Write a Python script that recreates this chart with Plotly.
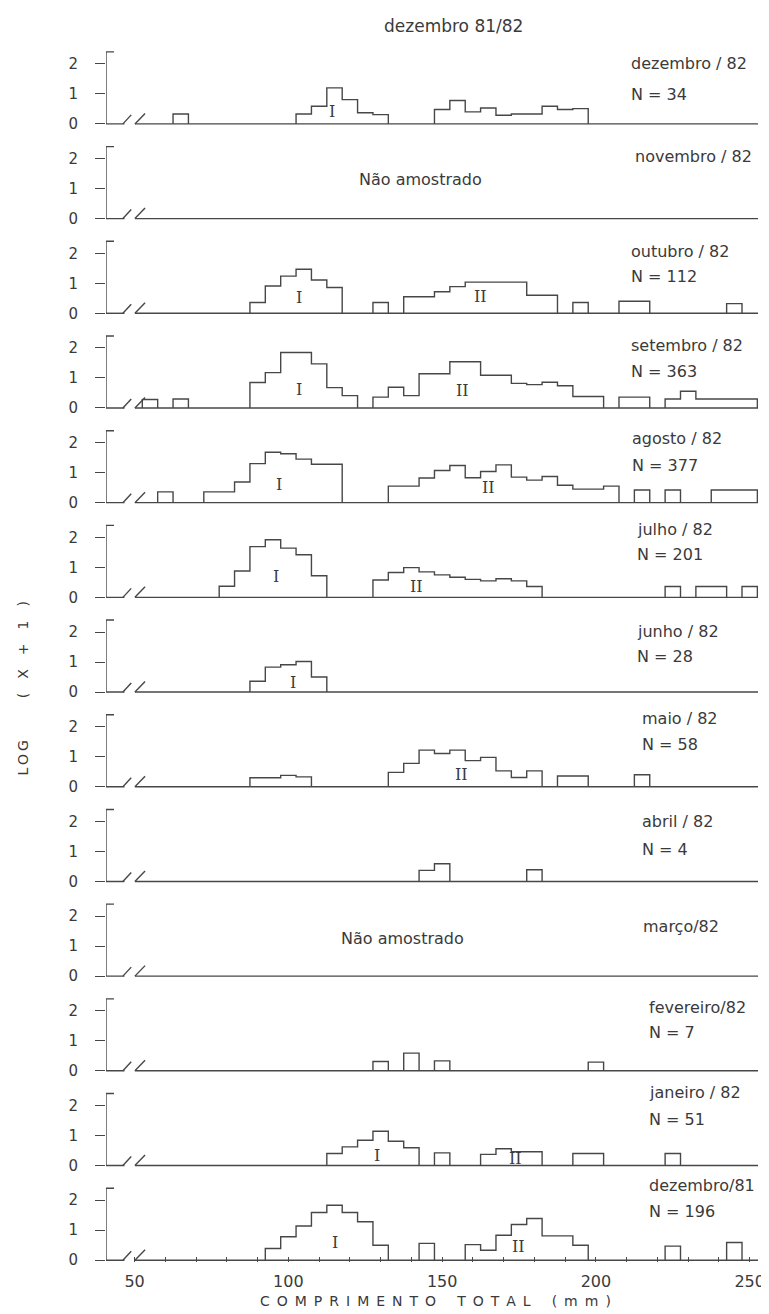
import plotly.graph_objects as go
from plotly.subplots import make_subplots

# ---------------- data (length classes of 5 mm, centred on multiples of 5) ----------------
BIN_WIDTH = 5

panel_months = ["dezembro / 82", "novembro / 82", "outubro / 82", "setembro / 82",
                "agosto / 82", "julho / 82", "junho / 82", "maio / 82",
                "abril / 82", "março/82", "fevereiro/82", "janeiro / 82", "dezembro/81"]
panel_n = [34, None, 112, 363, 377, 201, 28, 58, 4, None, 7, 51, 196]

dez82_mm = [65, 105, 110, 115, 120, 125, 130, 150, 155, 160, 165, 170, 175, 180, 185, 190, 195]
dez82_log = [0.33, 0.33, 0.59, 1.20, 0.81, 0.37, 0.31, 0.48, 0.78, 0.40, 0.53, 0.29, 0.33, 0.33, 0.59, 0.48, 0.51]
nov82_mm = []
nov82_log = []
out82_mm = [90, 95, 100, 105, 110, 115, 130, 140, 145, 150, 155, 160, 165, 170, 175, 180, 185, 195, 210, 215, 245]
out82_log = [0.36, 0.91, 1.24, 1.47, 1.11, 0.86, 0.36, 0.55, 0.55, 0.72, 0.89, 1.04, 1.04, 1.04, 1.04, 0.60, 0.60,
             0.36, 0.40, 0.40, 0.32]
set82_mm = [55, 65, 90, 95, 100, 105, 110, 115, 120, 130, 135, 140, 145, 150, 155, 160, 165, 170, 175, 180, 185,
            190, 195, 200, 210, 215, 225, 230, 235, 240, 245, 250]
set82_log = [0.28, 0.30, 0.85, 1.18, 1.85, 1.85, 1.47, 0.68, 0.41, 0.36, 0.69, 0.41, 1.14, 1.14, 1.54, 1.54, 1.09,
             1.09, 0.82, 0.78, 0.86, 0.74, 0.38, 0.38, 0.36, 0.36, 0.30, 0.56, 0.30, 0.30, 0.30, 0.30]
ago82_mm = [60, 75, 80, 85, 90, 95, 100, 105, 110, 115, 135, 140, 145, 150, 155, 160, 165, 170, 175, 180, 185, 190,
            195, 200, 205, 215, 225, 240, 245, 250]
ago82_log = [0.36, 0.36, 0.36, 0.69, 1.30, 1.68, 1.63, 1.45, 1.28, 1.28, 0.55, 0.55, 0.82, 1.07, 1.24, 0.83, 1.04,
             1.26, 0.85, 0.75, 0.87, 0.58, 0.45, 0.45, 0.55, 0.42, 0.42, 0.42, 0.42, 0.42]
jul82_mm = [80, 85, 90, 95, 100, 105, 110, 130, 135, 140, 145, 150, 155, 160, 165, 170, 175, 180, 225, 235, 240, 250]
jul82_log = [0.37, 0.88, 1.69, 1.92, 1.64, 1.42, 0.72, 0.58, 0.83, 0.99, 0.85, 0.75, 0.67, 0.60, 0.55, 0.62, 0.55,
             0.36, 0.36, 0.36, 0.36, 0.36]
jun82_mm = [90, 95, 100, 105, 110]
jun82_log = [0.36, 0.83, 0.91, 1.02, 0.50]
mai82_mm = [90, 95, 100, 105, 135, 140, 145, 150, 155, 160, 165, 170, 175, 180, 190, 195, 215]
mai82_log = [0.30, 0.30, 0.38, 0.33, 0.48, 0.78, 1.22, 1.11, 1.22, 0.87, 0.98, 0.53, 0.31, 0.53, 0.36, 0.36, 0.40]
abr82_mm = [145, 150, 180]
abr82_log = [0.37, 0.59, 0.39]
mar82_mm = []
mar82_log = []
fev82_mm = [130, 140, 150, 200]
fev82_log = [0.31, 0.59, 0.33, 0.29]
jan82_mm = [115, 120, 125, 130, 135, 140, 150, 165, 170, 175, 180, 195, 200, 225]
jan82_log = [0.40, 0.62, 0.84, 1.14, 0.81, 0.59, 0.42, 0.37, 0.56, 0.46, 0.46, 0.40, 0.40, 0.40]
dez81_mm = [95, 100, 105, 110, 115, 120, 125, 130, 145, 160, 165, 170, 175, 180, 185, 190, 195, 225, 245]
dez81_log = [0.39, 0.78, 1.14, 1.59, 1.83, 1.59, 1.28, 0.50, 0.56, 0.52, 0.33, 0.83, 1.19, 1.39, 0.81, 0.81, 0.50,
             0.47, 0.59]

panel_mm = [dez82_mm, nov82_mm, out82_mm, set82_mm, ago82_mm, jul82_mm, jun82_mm,
            mai82_mm, abr82_mm, mar82_mm, fev82_mm, jan82_mm, dez81_mm]
panel_log = [dez82_log, nov82_log, out82_log, set82_log, ago82_log, jul82_log, jun82_log,
             mai82_log, abr82_log, mar82_log, fev82_log, jan82_log, dez81_log]

# cohort labels
cohort_panel = [0, 2, 2, 3, 3, 4, 4, 5, 5, 6, 7, 11, 11, 12, 12]
cohort_text = ["I", "I", "II", "I", "II", "I", "II", "I", "II", "I", "II", "I", "II", "I", "II"]
cohort_mm = [114.1, 103.4, 162.6, 103.4, 156.5, 97.0, 165.2, 96.0, 141.7, 101.5, 156.2, 128.9, 173.9, 115.3, 174.9]
cohort_log = [0.40, 0.53, 0.57, 0.63, 0.57, 0.60, 0.50, 0.70, 0.37, 0.33, 0.40, 0.35, 0.23, 0.60, 0.47]

not_sampled_text = "Não amostrado"
x_ticks = list(range(50, 251, 10))
x_tick_labelled = [50, 100, 150, 200, 250]
y_ticks = [0, 1, 2]

# ---------------- layout / style ----------------
X_RANGE = [40.7, 252.7]
Y_RANGE = [-0.06, 3.097]
LINE = "#474747"
TEXT = "#3a3a3a"
FONT = "DejaVu Sans"

month_y = [2.03, 2.07, 2.07, 2.07, 2.13, 2.27, 2.03, 2.27, 2.00, 1.67, 2.10, 2.43, 2.50]
n_y = [0.97, None, 1.23, 1.23, 1.23, 1.43, 1.17, 1.42, 1.06, None, 1.27, 1.53, 1.63]
label_left = [210.9, 211.9, 210.9, 210.9, 211.2, 212.8, 212.8, 214.4, 214.4, 214.7, 216.7, 216.7, 216.7]
not_sampled_pos = {1: (143.0, 1.30), 9: (137.2, 1.27)}

N_PANELS = len(panel_months)
fig = make_subplots(rows=N_PANELS, cols=1, shared_xaxes=True, vertical_spacing=0)


def outline(centers, heights):
    xs, ys = [], []
    prev = None
    for c, h in zip(centers, heights):
        left, right = c - BIN_WIDTH / 2, c + BIN_WIDTH / 2
        if prev is None or abs(left - prev) > 1e-9:
            if prev is not None:
                xs += [prev, None]
                ys += [0, None]
            xs.append(left)
            ys.append(0)
        xs += [left, right]
        ys += [h, h]
        prev = right
    if prev is not None:
        xs.append(prev)
        ys.append(0)
    return xs, ys


shapes = []
annotations = []
for i in range(N_PANELS):
    row = i + 1
    xr = "x" if row == 1 else f"x{row}"
    yr = "y" if row == 1 else f"y{row}"
    xs, ys = outline(panel_mm[i], panel_log[i])
    if xs:
        fig.add_trace(go.Scatter(x=xs, y=ys, mode="lines", line=dict(color=LINE, width=1.4),
                                 cliponaxis=False, hoverinfo="skip"), row=row, col=1)
    # baseline with axis break and y axis line
    seg = [((X_RANGE[0], 0), (46.7, 0)), ((50.1, 0), (X_RANGE[1], 0)),
           ((46.2, 0), (48.9, 0.30)), ((50.1, 0), (53.4, 0.35)),
           ((X_RANGE[0], 0), (X_RANGE[0], 2.4)), ((X_RANGE[0], 2.4), (43.3, 2.4))]
    for (x0, y0), (x1, y1) in seg:
        shapes.append(dict(type="line", xref=xr, yref=yr, x0=x0, y0=y0, x1=x1, y1=y1,
                           line=dict(color=LINE, width=1.4)))
    annotations.append(dict(text=panel_months[i], xref=xr, yref=yr, x=label_left[i], y=month_y[i],
                            xanchor="left", yanchor="middle", showarrow=False,
                            font=dict(family=FONT, size=16, color=TEXT)))
    if panel_n[i] is not None:
        annotations.append(dict(text=f"N = {panel_n[i]}", xref=xr, yref=yr, x=label_left[i], y=n_y[i],
                                xanchor="left", yanchor="middle", showarrow=False,
                                font=dict(family=FONT, size=16, color=TEXT)))
    if i in not_sampled_pos:
        px, py = not_sampled_pos[i]
        annotations.append(dict(text=not_sampled_text, xref=xr, yref=yr, x=px, y=py,
                                xanchor="center", yanchor="middle", showarrow=False,
                                font=dict(family=FONT, size=16, color=TEXT)))

for p, t, xm, yl in zip(cohort_panel, cohort_text, cohort_mm, cohort_log):
    row = p + 1
    xr = "x" if row == 1 else f"x{row}"
    yr = "y" if row == 1 else f"y{row}"
    annotations.append(dict(text=t, xref=xr, yref=yr, x=xm, y=yl, xanchor="center", yanchor="middle",
                            showarrow=False, font=dict(family="DejaVu Serif", size=16, color=TEXT)))

# titles
annotations.append(dict(text="dezembro 81/82", xref="paper", yref="paper", x=0.533, y=1.004,
                        xanchor="center", yanchor="middle", showarrow=False,
                        font=dict(family=FONT, size=17, color=TEXT)))
sp = "\u2002"
xtitle = (sp.join("COMPRIMENTO") + sp * 3 + sp.join("TOTAL") + sp * 3 + sp.join("(mm)"))
annotations.append(dict(text=xtitle, xref="paper", yref="paper", x=0.505, y=-0.032,
                        xanchor="center", yanchor="middle", showarrow=False,
                        font=dict(family=FONT, size=14, color=TEXT)))
ytitle = "\u2009".join("LOG") + "\u2003" * 3 + "\u2003".join("(X+1)")
annotations.append(dict(text=ytitle, xref="paper", yref="paper", x=-0.128, y=0.4655, textangle=-90,
                        xanchor="center", yanchor="middle", showarrow=False,
                        font=dict(family=FONT, size=14, color=TEXT)))

fig.update_xaxes(range=X_RANGE, showgrid=False, zeroline=False, showline=False, ticks="",
                 showticklabels=False)
fig.update_xaxes(row=N_PANELS, col=1, showticklabels=True, tickvals=x_ticks,
                 ticktext=[str(v) if v in x_tick_labelled else "" for v in x_ticks],
                 ticks="inside", ticklen=5, tickwidth=1.3, tickcolor=LINE, ticklabelstandoff=8,
                 tickfont=dict(family=FONT, size=16, color=TEXT))
fig.update_yaxes(range=Y_RANGE, tickvals=y_ticks, ticks="outside", ticklen=10, tickwidth=1.3,
                 tickcolor=LINE, showgrid=False, zeroline=False, showline=False,
                 ticksuffix="\u2002", ticklabelstandoff=14,
                 tickfont=dict(family=FONT, size=15, color=TEXT))

fig.update_layout(width=769, height=1314, margin=dict(l=98, r=12, t=23, b=60),
                  paper_bgcolor="white", plot_bgcolor="white", showlegend=False,
                  shapes=shapes, annotations=annotations)

fig.write_html("out.html")
